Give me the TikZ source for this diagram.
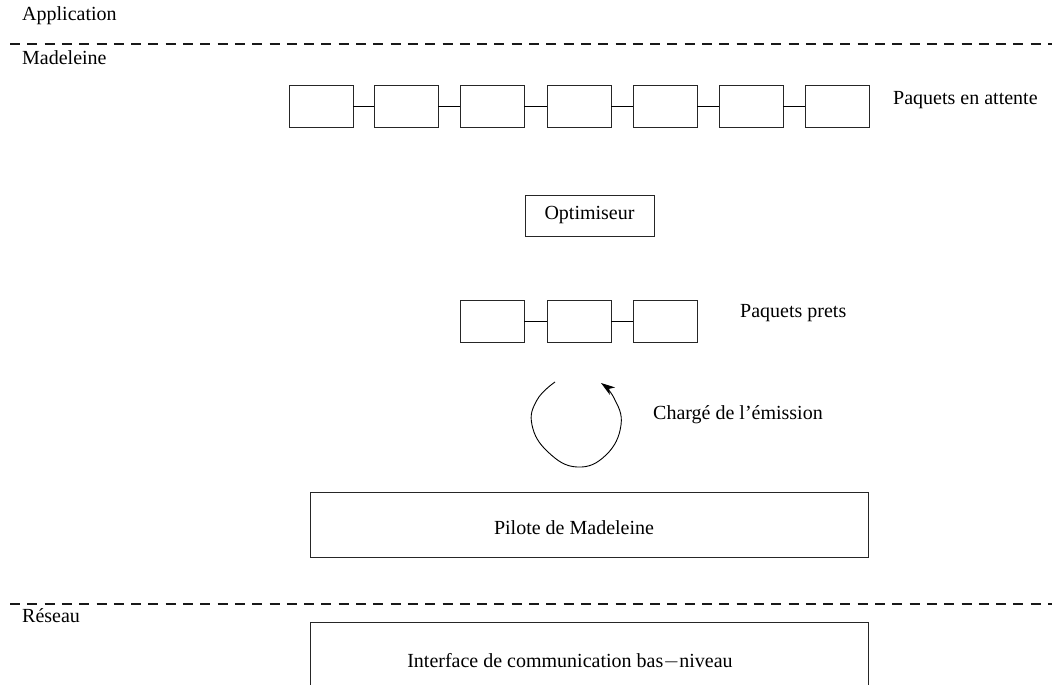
\documentclass[tikz,border=0pt]{standalone}
\usepackage{fontspec}
\setmainfont{Liberation Serif}
\usetikzlibrary{arrows.meta}
\begin{document}
\begin{tikzpicture}[x=1pt,y=-1pt,
  every node/.style={font=\fontsize{20}{24}\selectfont},
  pkt/.style={draw=black!85,line width=0.9pt,minimum width=64pt,minimum height=42pt,inner sep=0pt},
  bigbox/.style={draw=black!85,line width=0.9pt,minimum width=558pt,minimum height=65pt,inner sep=0pt},
  sep/.style={line width=1.1pt,dash pattern=on 10pt off 7.3pt,black!90},
  link/.style={line width=0.9pt},
  lbl/.style={anchor=base west,inner sep=0pt}]
\useasboundingbox (0,0) rectangle (1052,685);
% layer separators
\coordinate (s1a) at (10,44); \coordinate (s1b) at (1052,44);
\coordinate (s2a) at (10,604); \coordinate (s2b) at (1052,604);
\draw[sep] (s1a) -- (s1b);
\draw[sep] (s2a) -- (s2b);
\node[lbl] (app) at (22,21) {Application};
\node[lbl] (mad) at (22,64) {Madeleine};
\node[lbl] (res) at (22,622) {Réseau};
% waiting packets
\foreach \i/\x in {1/321,2/406,3/492,4/579,5/665,6/751,7/837}{
  \node[pkt] (w\i) at (\x,106) {};
}
\foreach \i/\j in {1/2,2/3,3/4,4/5,5/6,6/7}{
  \draw[link] (w\i.east) -- (w\j.west);
}
\node[lbl] (patt) at (893,104) {Paquets en attente};
% optimiser
\node[draw=black!85,line width=0.9pt,minimum width=129pt,minimum height=41pt,inner sep=0pt] (opt) at (589.5,215.5) {Optimiseur};
% ready packets
\foreach \i/\x in {1/492,2/579,3/665}{
  \node[pkt] (r\i) at (\x,321) {};
}
\draw[link] (r1.east) -- (r2.west);
\draw[link] (r2.east) -- (r3.west);
\node[lbl] (ppr) at (740,317) {Paquets prets};
% emission loop
\coordinate (l0) at (555,382);
\coordinate (l1) at (601,383);
\draw[line width=0.9pt,-{Stealth[length=14pt,width=9pt,inset=4pt]}]
  plot[smooth,tension=0.75] coordinates {(l0) (537,400) (532,425) (548,452) (577,467) (606,455) (621,425) (614,398) (l1)};
\node[lbl] (ch) at (653,419) {Chargé de l’émission};
% driver
\node[bigbox] (pil) at (589,524.5) {};
\node (pilt) at (574,528) {Pilote de Madeleine};
% low-level interface
\node[bigbox,minimum height=90pt,anchor=north] (itf) at (589,622) {};
\node[anchor=base] (itft) at (570,667) {Interface de communication bas$-$niveau};
\end{tikzpicture}
\end{document}
